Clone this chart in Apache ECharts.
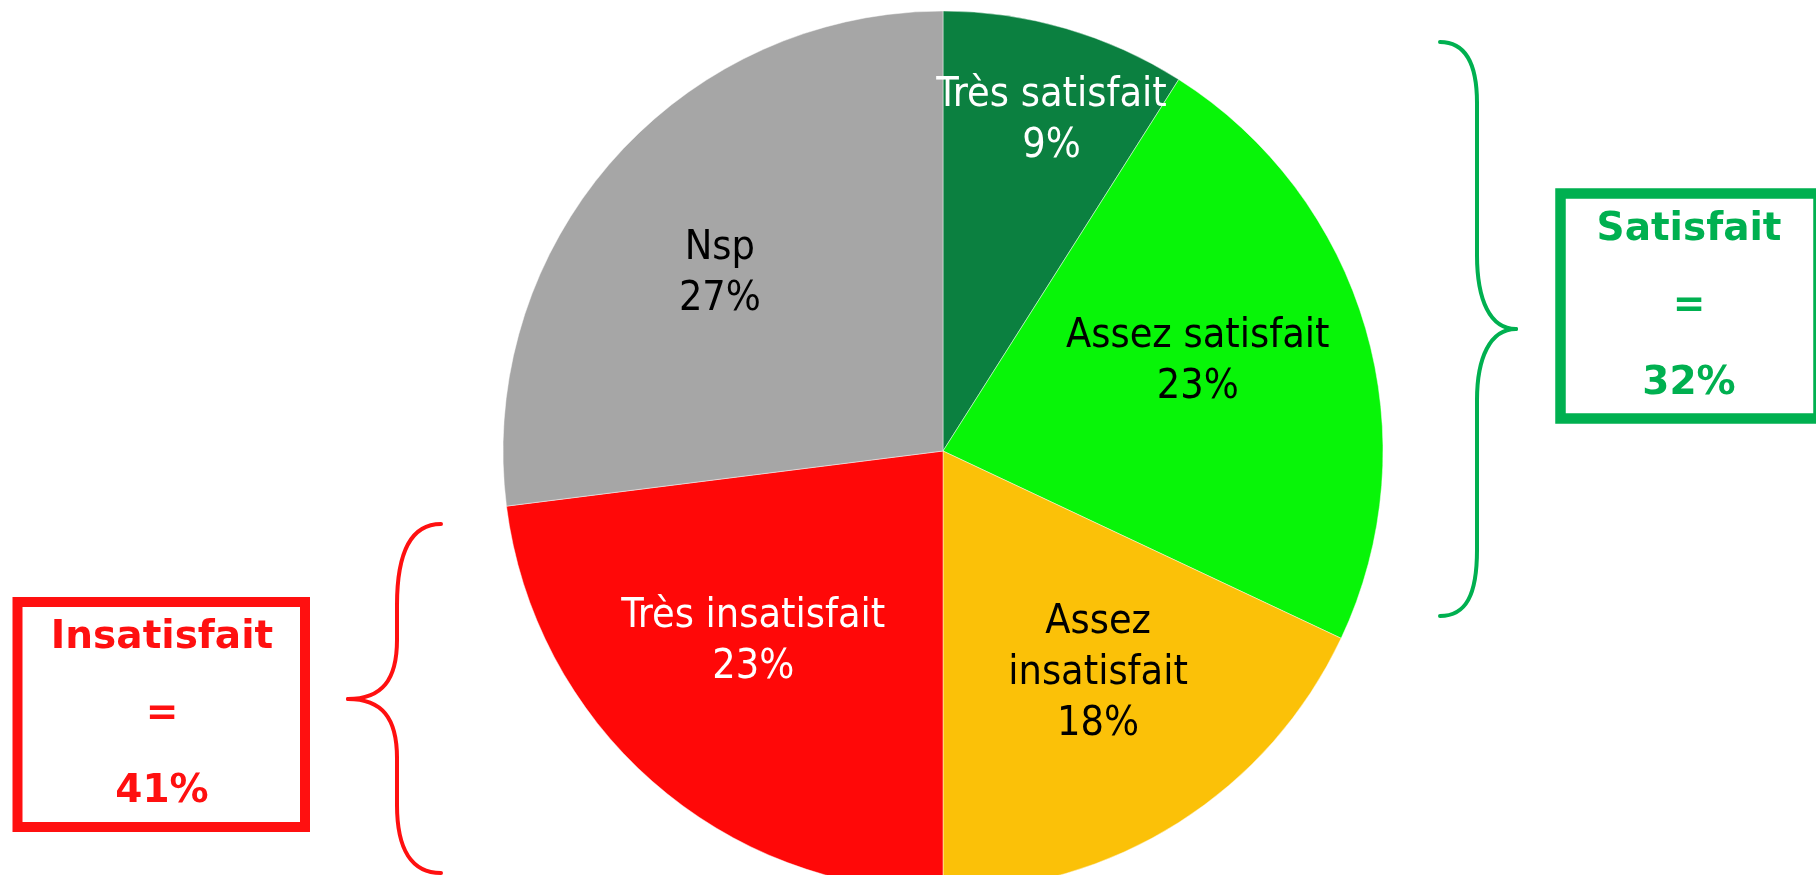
<!DOCTYPE html>
<html>
<head>
<meta charset="utf-8">
<script src="https://cdn.jsdelivr.net/npm/echarts@6/dist/echarts.min.js"></script>
<style>
  html, body { margin: 0; padding: 0; background: #fff; }
  #main { width: 1816px; height: 875px; }
</style>
</head>
<body>
<div id="main"></div>
<script>
// données
var categories = ['Très satisfait', 'Assez satisfait', 'Assez insatisfait', 'Très insatisfait', 'Nsp'];
var values = [9, 23, 18, 23, 27];
var labelNames = ['Très satisfait', 'Assez satisfait', 'Assez\ninsatisfait', 'Très insatisfait', 'Nsp'];
var groupSatisfait = 32;
var groupInsatisfait = 41;

var colors = ['#0b8040', '#08f508', '#fbc108', '#ff0808', '#a6a6a6'];
var textColors = ['#fff', '#000', '#000', '#fff', '#000'];
// position des étiquettes : distance / rayon, et petit décalage angulaire (degrés)
var labelRadius = [0.79, 0.613, 0.616, 0.611, 0.647];
var labelAngleShift = [2, -3, -2.5, 3.5, -3];

var cx = 943, cy = 451, R = 440;

var chart = echarts.init(document.getElementById('main'));

var data = categories.map(function (c, i) {
    return {
        name: c,
        value: values[i],
        itemStyle: { color: colors[i] },
        label: { color: textColors[i] }
    };
});

// accolade : liste de segments (bezier + lignes)
function brace(pts, color) {
    var style = { fill: 'none', stroke: color, lineWidth: 4, lineCap: 'round' };
    return pts.map(function (s) {
        if (s.length === 4) {
            return { type: 'line', shape: { x1: s[0], y1: s[1], x2: s[2], y2: s[3] }, style: style };
        }
        return {
            type: 'bezierCurve',
            shape: { x1: s[0], y1: s[1], cpx1: s[2], cpy1: s[3], cpx2: s[4], cpy2: s[5], x2: s[6], y2: s[7] },
            style: style
        };
    });
}

var braceGreen = brace([
    [1440, 42, 1466, 42, 1477, 65, 1477, 103],
    [1477, 103, 1477, 255],
    [1477, 255, 1477, 300, 1490, 329, 1516, 329],
    [1516, 329, 1490, 329, 1477, 358, 1477, 400],
    [1477, 400, 1477, 550],
    [1477, 550, 1477, 595, 1466, 616, 1440, 616]
], '#00b050');

var braceRed = brace([
    [441, 524, 412, 524, 397, 550, 397, 605],
    [397, 605, 397, 640],
    [397, 640, 397, 680, 382, 699, 348, 699],
    [348, 699, 382, 699, 397, 718, 397, 758],
    [397, 758, 397, 805],
    [397, 805, 397, 850, 412, 873, 441, 873]
], '#ff1010');

var option = {
    animation: false,
    series: [{
        type: 'pie',
        center: [cx, cy],
        radius: [0, R],
        startAngle: 90,
        clockwise: true,
        data: data,
        itemStyle: {
            borderColor: 'rgba(255,255,255,0.45)',
            borderWidth: 1
        },
        label: {
            show: true,
            position: 'inside',
            fontFamily: "'DejaVu Sans Condensed', 'DejaVu Sans', sans-serif",
            fontSize: 41,
            lineHeight: 51,
            align: 'center',
            formatter: function (p) {
                return labelNames[p.dataIndex] + '\n' + p.value + '%';
            }
        },
        labelLine: { show: false },
        // on replace chaque étiquette le long de son angle médian
        labelLayout: function (p) {
            var i = p.dataIndex;
            var lx = p.labelRect.x + p.labelRect.width / 2;
            var ly = p.labelRect.y + p.labelRect.height / 2;
            var a = Math.atan2(lx - cx, cy - ly) + labelAngleShift[i] * Math.PI / 180;
            var r = labelRadius[i] * R;
            return { dx: cx + r * Math.sin(a) - lx, dy: cy - r * Math.cos(a) - ly };
        },
        emphasis: { disabled: true }
    }],
    graphic: braceGreen.concat(braceRed, [
        {
            type: 'rect',
            shape: { x: 1560.5, y: 193.5, width: 258, height: 225 },
            style: { fill: 'none', stroke: '#00b050', lineWidth: 10.5 }
        },
        {
            type: 'text',
            x: 1689, y: 307,
            style: {
                text: 'Satisfait\n=\n' + groupSatisfait + '%',
                fill: '#00b050',
                font: "bold 39px 'DejaVu Sans', sans-serif",
                lineHeight: 77,
                align: 'center',
                verticalAlign: 'middle'
            }
        },
        {
            type: 'rect',
            shape: { x: 17.5, y: 602, width: 287.5, height: 225 },
            style: { fill: 'none', stroke: '#ff1010', lineWidth: 10 }
        },
        {
            type: 'text',
            x: 162, y: 715,
            style: {
                text: 'Insatisfait\n=\n' + groupInsatisfait + '%',
                fill: '#ff1010',
                font: "bold 39px 'DejaVu Sans', sans-serif",
                lineHeight: 77,
                align: 'center',
                verticalAlign: 'middle'
            }
        }
    ])
};

chart.setOption(option);
</script>
</body>
</html>
